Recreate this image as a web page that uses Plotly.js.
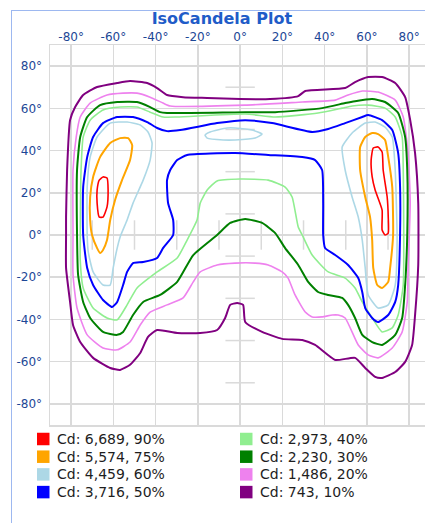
<!DOCTYPE html>
<html>
<head>
<meta charset="utf-8">
<script src="https://cdn.plot.ly/plotly-3.0.1.min.js"></script>
<style>
  html, body { margin: 0; padding: 0; background: #ffffff; overflow: hidden; }
  #chart { position: absolute; left: 0; top: 0; width: 425px; height: 523px; }
  #frame { position: absolute; left: 11px; top: 10px; right: 0; bottom: 0;
           border-left: 1px solid #9db8f0; border-top: 1px solid #9db8f0;
           pointer-events: none; z-index: 10; }
</style>
</head>
<body>
<div id="chart"></div>
<div id="frame"></div>
<script>
// ---- Data (degrees: horizontal angle, vertical angle) ----
const levelLabels = ['Cd: 6,689, 90%', 'Cd: 5,574, 75%', 'Cd: 4,459, 60%', 'Cd: 3,716, 50%',
                     'Cd: 2,973, 40%', 'Cd: 2,230, 30%', 'Cd: 1,486, 20%', 'Cd: 743, 10%'];
const axisTicks = [-80, -60, -40, -20, 0, 20, 40, 60, 80];
const axisTickText = ['-80°', '-60°', '-40°', '-20°', '0°', '20°', '40°', '60°', '80°'];
const centerTicks = [-70, -50, -30, -10, 10, 30, 50, 70];

const iso743 = [[-82.4,0],[-82.4,8.5],[-81.9,30.8],[-80.5,54.4],[-78.1,60.6],[-74.3,66.3],[-67.7,70.1],[-58.2,72.0],[-52.1,72.9],[-44.0,72.0],[-39.3,69.6],[-34.6,66.3],[-27.0,65.3],[-15.6,64.9],[0,64.4],[14.2,64.4],[27.5,65.8],[30.8,68.2],[49.7,69.6],[54.4,72.4],[60.6,74.8],[67.2,74.8],[73.4,72.0],[78.1,65.3],[80.5,54.4],[82.8,38.8],[84.3,15.1],[84.3,-14.2],[82.8,-37.9],[81.4,-52.1],[78.1,-60.1],[73.4,-64.9],[67.2,-67.7],[63.9,-67.2],[59.2,-63.0],[54.4,-58.2],[45.0,-59.2],[35.5,-52.1],[29.4,-49.7],[19.9,-49.2],[10.4,-45.9],[2.4,-41.2],[1.4,-33.1],[-1.4,-32.2],[-4.7,-33.1],[-7.1,-39.3],[-10.9,-45.0],[-18.9,-46.4],[-29.8,-46.4],[-39.3,-45.0],[-43.6,-48.3],[-47.3,-55.9],[-52.1,-61.5],[-56.8,-63.9],[-61.5,-63.0],[-69.6,-58.2],[-75.7,-50.7],[-79.1,-42.6],[-80.5,-31.7],[-82.4,-15.6],[-82.4,0]];

const iso1486 = [[-79.1,0],[-79.1,30.8],[-77.6,46.4],[-75.7,55.9],[-71.0,62.5],[-63.0,66.3],[-55.4,67.2],[-48.8,67.2],[-42.6,65.3],[-36.5,62.5],[-33.1,61.1],[2.4,61.5],[29.4,63.0],[45.0,63.9],[51.1,66.3],[57.8,68.2],[65.3,67.7],[73.4,63.9],[77.2,55.9],[79.5,38.8],[80.5,15.1],[79.5,-15.6],[79.1,-31.7],[76.7,-45.9],[72.0,-53.5],[65.3,-58.2],[60.6,-56.8],[55.9,-52.1],[49.7,-39.3],[46.4,-37.9],[43.6,-37.9],[38.8,-38.8],[34.1,-38.8],[30.8,-36.5],[26.0,-28.4],[22.7,-20.4],[19.9,-17.5],[13.3,-14.2],[7.1,-13.3],[-2.4,-13.3],[-10.9,-14.2],[-18.9,-17.5],[-22.2,-22.2],[-27.0,-29.8],[-34.6,-33.1],[-42.6,-36.5],[-47.3,-42.6],[-52.1,-50.7],[-58.2,-54.4],[-64.9,-53.5],[-72.4,-47.3],[-77.2,-34.6],[-79.1,-18.9],[-79.1,0]];

const iso2230 = [[-77.2,0],[-77.2,30.8],[-75.7,46.4],[-72.4,55.9],[-66.3,61.5],[-58.2,63.0],[-48.8,63.0],[-42.6,60.6],[-37.9,58.2],[-34.6,57.8],[2.4,58.2],[16.6,58.2],[38.8,60.1],[49.7,62.5],[54.4,63.4],[62.5,64.4],[68.6,63.0],[74.8,57.8],[78.1,46.4],[79.1,30.8],[79.1,0],[78.1,-23.7],[76.7,-39.3],[73.4,-47.3],[67.2,-52.1],[62.5,-50.7],[57.8,-47.3],[54.4,-39.3],[51.1,-33.1],[48.3,-29.8],[41.7,-28.4],[36.9,-27.0],[32.2,-22.2],[27.5,-14.2],[21.3,-6.2],[16.6,0.9],[10.4,5.7],[2.4,7.6],[-4.7,5.7],[-10.9,0],[-22.2,-9.5],[-29.8,-22.2],[-37.9,-28.4],[-45.9,-31.7],[-50.7,-37.9],[-55.4,-45.9],[-58.2,-47.3],[-64.9,-45.9],[-71.0,-39.3],[-74.3,-31.7],[-76.7,-18.9],[-77.2,0]];

const iso2973 = [[-75.7,0],[-75.3,30.8],[-74.3,46.4],[-71.0,54.4],[-64.9,59.2],[-56.8,60.6],[-48.8,60.6],[-42.6,58.2],[-36.5,55.9],[-29.8,55.9],[2.4,57.3],[16.6,55.9],[36.9,57.8],[48.3,60.1],[53.0,61.1],[60.6,61.5],[68.6,60.1],[73.4,55.9],[76.7,46.4],[77.2,30.8],[77.2,-23.7],[74.8,-37.9],[72.0,-44.0],[67.2,-45.9],[62.5,-39.3],[57.8,-31.7],[54.4,-25.1],[49.7,-20.4],[41.7,-17.5],[34.1,-9.5],[29.4,0],[27.5,3.8],[24.6,18.0],[21.3,22.7],[13.3,26.0],[0,26.5],[-10.9,25.6],[-15.6,21.3],[-18.9,15.1],[-20.4,7.1],[-25.1,-2.4],[-29.8,-10.9],[-39.3,-17.5],[-48.8,-25.1],[-53.5,-33.1],[-58.2,-40.2],[-63.0,-39.3],[-69.6,-34.6],[-74.3,-25.1],[-75.7,-11.8],[-75.7,0]];

const iso3716 = [[-74.3,0],[-74.3,22.7],[-72.4,36.9],[-69.6,46.4],[-64.9,53.0],[-58.2,55.9],[-50.7,55.9],[-44.0,53.5],[-39.3,50.7],[-34.6,49.2],[-28.4,49.7],[-10.9,53.0],[2.4,54.4],[15.1,53.0],[34.1,48.8],[41.7,50.2],[49.7,53.0],[57.8,55.9],[60.6,56.8],[67.2,54.4],[72.0,49.7],[74.8,38.8],[75.7,22.7],[75.7,0],[74.8,-23.7],[73.4,-31.7],[70.1,-37.9],[65.3,-41.2],[62.5,-39.3],[59.2,-34.6],[57.8,-27.0],[55.9,-20.4],[51.1,-14.2],[45.0,-9.5],[40.2,-6.2],[39.3,0],[39.3,15.1],[38.8,30.8],[35.5,35.5],[29.4,36.9],[13.3,37.9],[-2.4,38.8],[-25.1,37.9],[-29.8,35.5],[-33.1,30.8],[-34.6,26.0],[-34.1,15.1],[-31.7,7.1],[-31.7,0],[-36.5,-6.2],[-39.3,-10.9],[-45.9,-12.8],[-50.7,-13.3],[-53.5,-17.5],[-55.4,-23.7],[-58.2,-31.7],[-60.6,-34.1],[-64.9,-30.8],[-69.6,-23.7],[-72.4,-15.6],[-74.3,0]];

const iso4459 = [[-72.4,0],[-72.4,22.7],[-71.0,36.9],[-67.7,46.4],[-61.5,53.0],[-53.5,53.5],[-47.3,52.1],[-43.6,48.8],[-41.7,43.6],[-42.6,35.5],[-45.9,26.0],[-50.7,15.1],[-53.5,7.1],[-56.8,-0.9],[-58.2,-6.2],[-60.1,-15.6],[-61.5,-23.7],[-64.9,-23.7],[-69.6,-17.5],[-71.9,-8.0],[-72.4,0],
  null,
  [49.7,30.8],[48.3,41.7],[53.0,48.3],[59.2,53.0],[63.9,53.5],[68.6,51.1],[72.0,46.4],[73.4,30.8],[74.3,-2.4],[73.4,-23.7],[70.1,-33.1],[65.3,-34.6],[60.6,-28.4],[59.2,-15.6],[57.8,-2.4],[55.9,8.5],[53.0,18.0],[49.7,30.8],
  null,
  [-16.6,47.3],[-14.2,48.8],[-6.2,50.7],[-2.4,50.7],[5.7,49.7],[10.4,47.8],[7.1,45.9],[-2.4,45.0],[-8.0,45.0],[-15.6,45.9],[-16.6,47.3]];

const iso5574 = [[-69.6,27.5],[-66.3,36.9],[-61.5,43.6],[-56.8,45.9],[-53.0,45.9],[-51.1,42.6],[-52.1,35.5],[-55.9,26.0],[-59.2,16.6],[-61.5,7.1],[-63.0,-2.4],[-64.9,-7.1],[-66.3,-8.5],[-67.7,-6.2],[-70.1,0],[-71.0,7.1],[-71.0,18.0],[-69.6,27.5],
  null,
  [56.8,41.7],[59.2,46.4],[62.5,48.3],[65.3,47.8],[68.6,45.0],[70.1,36.9],[72.0,22.7],[72.4,0],[71.0,-15.6],[70.1,-22.2],[67.2,-25.1],[64.9,-23.7],[63.0,-15.6],[62.5,-2.4],[61.5,8.5],[59.2,18.0],[56.8,30.8],[56.8,41.7]];

const iso6689 = [[-64.9,27.5],[-63.0,27.0],[-62.5,21.3],[-63.0,13.3],[-64.9,8.5],[-66.7,8.5],[-67.7,15.1],[-67.7,21.3],[-66.7,26.0],[-64.9,27.5],
  null,
  [63.0,41.2],[65.3,41.7],[67.2,39.3],[67.7,30.8],[69.6,18.0],[70.1,8.5],[70.1,0.9],[68.6,0],[67.2,2.4],[67.2,11.8],[63.9,21.3],[62.5,27.5],[62.0,35.5],[63.0,41.2]];

// ---- Styles ----
const levelData = [iso6689, iso5574, iso4459, iso3716, iso2973, iso2230, iso1486, iso743];
const levelColors = ['#ff0000', '#ffa500', '#add8e6', '#0000ff', '#90ee90', '#008000', '#ee82ee', '#800080'];
const levelWidths = [1.6, 2, 1.6, 2, 1.6, 2, 1.6, 2];
const gridColor = '#dadada';
const labelColor = '#1d4796';
const fontFam = 'DejaVu Sans, Verdana, sans-serif';

const traces = [];

// center cross ticks
traces.push({
  type: 'scatter', mode: 'markers', x: centerTicks.map(() => 0), y: centerTicks,
  marker: { symbol: 'line-ew', size: 21, line: { color: gridColor, width: 1.5 } },
  hoverinfo: 'skip', showlegend: false
});
traces.push({
  type: 'scatter', mode: 'markers', x: centerTicks, y: centerTicks.map(() => 0),
  marker: { symbol: 'line-ns', size: 21, line: { color: gridColor, width: 1.5 } },
  hoverinfo: 'skip', showlegend: false
});

// iso lines, outermost first
for (let i = levelData.length - 1; i >= 0; i--) {
  const pts = levelData[i];
  traces.push({
    type: 'scatter', mode: 'lines',
    x: pts.map(p => p === null ? null : p[0]),
    y: pts.map(p => p === null ? null : p[1]),
    line: { color: levelColors[i], width: levelWidths[i], shape: 'spline', smoothing: 0.5 },
    connectgaps: false, name: levelLabels[i], showlegend: false, hoverinfo: 'name'
  });
}

// ---- Legend (two columns, drawn in paper space below the plot) ----
const plotL = 50, plotT = 45, plotW = 375, plotH = 380;
const px2x = px => (px - plotL) / plotW;
const px2y = py => 1 - (py - plotT) / plotH;
const colSquareX = [37, 240];
const colTextX = [56, 259];
const rowY0 = 439, rowStep = 17.7, sq = 12.5;
const shapes = [], annotations = [];
levelLabels.forEach((lab, i) => {
  const col = Math.floor(i / 4), row = i % 4;
  const cy = rowY0 + row * rowStep;
  shapes.push({
    type: 'rect', xref: 'paper', yref: 'paper', layer: 'above',
    x0: px2x(colSquareX[col]), x1: px2x(colSquareX[col] + sq),
    y0: px2y(cy + sq / 2), y1: px2y(cy - sq / 2),
    fillcolor: levelColors[i], line: { width: 0 }
  });
  annotations.push({
    text: lab, xref: 'paper', yref: 'paper', showarrow: false,
    x: px2x(colTextX[col]), xanchor: 'left', y: px2y(cy), yanchor: 'middle',
    borderpad: 0, font: { family: fontFam, size: 14, color: '#1e1e1e' }
  });
});

const layout = {
  width: 425, height: 523,
  margin: { l: plotL, r: 425 - plotL - plotW, t: plotT, b: 523 - plotT - plotH, pad: 0 },
  paper_bgcolor: '#ffffff', plot_bgcolor: '#ffffff',
  font: { family: fontFam, size: 12, color: labelColor },
  showlegend: false,
  title: {
    text: 'IsoCandela Plot',
    font: { family: fontFam, size: 16, color: '#1f5cc8', weight: 'bold' },
    xref: 'container', x: 0.522, xanchor: 'center',
    yref: 'container', y: 1 - 18.5 / 523, yanchor: 'middle'
  },
  xaxis: {
    range: [-90, 87.5], side: 'top', tickmode: 'array',
    tickvals: axisTicks, ticktext: axisTickText,
    showgrid: true, gridcolor: gridColor, gridwidth: 1.5,
    zeroline: false, showline: true, linecolor: gridColor, linewidth: 1.5, mirror: true,
    ticks: '', ticklabelstandoff: -2, tickfont: { family: fontFam, size: 12, color: labelColor },
    fixedrange: true
  },
  yaxis: {
    range: [-90, 90], tickmode: 'array',
    tickvals: axisTicks, ticktext: axisTickText,
    showgrid: true, gridcolor: gridColor, gridwidth: 1.5,
    zeroline: false, showline: true, linecolor: gridColor, linewidth: 1.5, mirror: true,
    ticks: '', ticklabelstandoff: 4, tickfont: { family: fontFam, size: 12, color: labelColor },
    fixedrange: true
  },
  shapes: shapes,
  annotations: annotations
};

Plotly.newPlot('chart', traces, layout, { displayModeBar: false, staticPlot: true });
</script>
</body>
</html>
